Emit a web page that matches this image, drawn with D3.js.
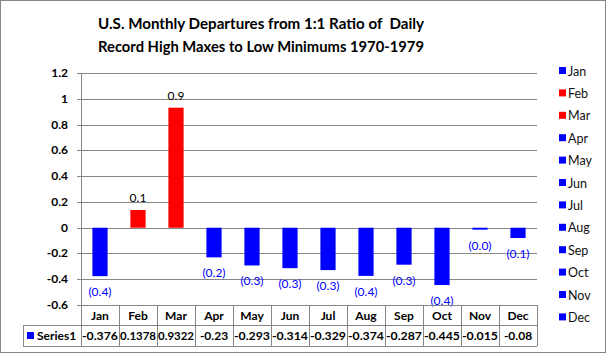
<!DOCTYPE html>
<meta charset="utf-8">
<style>body { margin: 0; }</style>
<svg width="607" height="354"></svg>

<script src="https://d3js.org/d3.v7.min.js"></script>
<script>
	// Monthly departures from a 1:1 ratio of record highs to record lows, 1970-1979
	const months = ["Jan", "Feb", "Mar", "Apr", "May", "Jun", "Jul", "Aug", "Sep", "Oct", "Nov", "Dec"]
	const values = [-0.376, 0.1378, 0.9322, -0.23, -0.293, -0.314, -0.329, -0.374, -0.287, -0.445, -0.015, -0.08]
	const tableText = ["-0.376", "0.1378", "0.9322", "-0.23", "-0.293", "-0.314", "-0.329", "-0.374", "-0.287", "-0.445", "-0.015", "-0.08"]
	const yTicks = [-0.6, -0.4, -0.2, 0, 0.2, 0.4, 0.6, 0.8, 1, 1.2]
	const seriesName = "Series1"
	const titleLines = ["U.S. Monthly Departures from 1:1 Ratio of  Daily", "Record High Maxes to Low Minimums 1970-1979"]

	const font = "Lato, 'Open Sans', sans-serif"
	const blue = "#0000ff", red = "#ff0000", grid = "#868686"
	const colorOf = v => v >= 0 ? red : blue

	const svg = d3.select("svg")
		.attr("font-family", font)
		.style("display", "block")

	// outer border
	svg.append("rect")
		.attr("x", 0.5).attr("y", 0.5)
		.attr("width", 605).attr("height", 352)
		.attr("fill", "#fff").attr("stroke", grid)

	// title
	svg.append("text")
		.attr("text-anchor", "middle")
		.attr("font-weight", "bold").attr("font-size", 15.5)
		.selectAll("tspan")
		.data(titleLines)
		.join("tspan")
			.attr("x", 261)
			.attr("y", (d, i) => 29 + i * 23)
			.style("white-space", "pre")
			.attr("textLength", 326)
			.attr("lengthAdjust", "spacingAndGlyphs")
			.text(d => d)

	const plotLeft = 81, plotRight = 537, plotTop = 73.2, plotBottom = 305

	const x = d3.scaleBand()
		.domain(months)
		.range([plotLeft, plotRight])
		.paddingInner(0.6)
		.paddingOuter(0.3)

	const y = d3.scaleLinear()
		.domain([-0.6, 1.2])
		.range([plotBottom, plotTop])

	// gridlines
	svg.append("g")
		.selectAll("line")
		.data(yTicks)
		.join("line")
			.attr("x1", plotLeft - 4).attr("x2", plotRight)
			.attr("y1", d => Math.round(y(d)) + 0.5)
			.attr("y2", d => Math.round(y(d)) + 0.5)
			.attr("stroke", grid)

	// y axis line
	svg.append("line")
		.attr("x1", plotLeft + 0.5).attr("x2", plotLeft + 0.5)
		.attr("y1", plotTop).attr("y2", 346)
		.attr("stroke", grid)

	// y tick labels
	svg.append("g")
		.attr("font-weight", "bold").attr("font-size", 12)
		.attr("text-anchor", "end")
		.selectAll("text")
		.data(yTicks)
		.join("text")
			.attr("x", 68)
			.attr("y", d => y(d) + 4)
			.text(d => String(d))

	// bars
	svg.append("g")
		.selectAll("rect")
		.data(values)
		.join("rect")
			.attr("x", (d, i) => x(months[i]))
			.attr("width", x.bandwidth())
			.attr("y", d => y(Math.max(0, d)))
			.attr("height", d => Math.abs(y(d) - y(0)))
			.attr("fill", colorOf)

	// data labels
	svg.append("g")
		.attr("font-size", 12)
		.attr("text-anchor", "middle")
		.selectAll("text")
		.data(values)
		.join("text")
			.attr("x", (d, i) => x(months[i]) + x.bandwidth() / 2)
			.attr("y", d => d >= 0 ? y(d) - 8 : y(d) + 20)
			.attr("fill", d => d >= 0 ? "#000" : blue)
			.text(d => d >= 0 ? Math.abs(d).toFixed(1) : `(${Math.abs(d).toFixed(1)})`)

	// data table
	const rowTop = 305, rowMid = 325, rowEnd = 346, tableLeft = 23
	const colX = i => Math.round(plotLeft + i * (plotRight - plotLeft) / 12) + 0.5
	const cx = i => plotLeft + (i + 0.5) * (plotRight - plotLeft) / 12
	const table = svg.append("g").attr("stroke", grid)
	table.append("line").attr("x1", plotLeft).attr("x2", plotRight).attr("y1", rowTop + 0.5).attr("y2", rowTop + 0.5)
	table.append("line").attr("x1", tableLeft).attr("x2", plotRight).attr("y1", rowMid + 0.5).attr("y2", rowMid + 0.5)
	table.append("line").attr("x1", tableLeft).attr("x2", plotRight).attr("y1", rowEnd + 0.5).attr("y2", rowEnd + 0.5)
	table.append("line").attr("x1", tableLeft + 0.5).attr("x2", tableLeft + 0.5).attr("y1", rowMid).attr("y2", rowEnd)
	table.selectAll(".col")
		.data(months)
		.join("line")
			.attr("x1", (d, i) => colX(i + 1))
			.attr("x2", (d, i) => colX(i + 1))
			.attr("y1", rowTop).attr("y2", rowEnd)

	svg.append("g")
		.attr("font-weight", "bold").attr("font-size", 12)
		.attr("text-anchor", "middle")
		.selectAll("text")
		.data(months)
		.join("text")
			.attr("x", (d, i) => cx(i))
			.attr("y", 320)
			.text(d => d)

	svg.append("g")
		.attr("font-weight", "bold").attr("font-size", 12)
		.attr("text-anchor", "middle")
		.selectAll("text")
		.data(tableText)
		.join("text")
			.attr("x", (d, i) => cx(i))
			.attr("y", 340)
			.attr("textLength", d => d.length > 5 ? 36 : null)
			.attr("lengthAdjust", "spacingAndGlyphs")
			.text(d => d)

	svg.append("rect")
		.attr("x", 27).attr("y", 332).attr("width", 7).attr("height", 7)
		.attr("fill", blue)
	svg.append("text")
		.attr("x", 37).attr("y", 340)
		.attr("font-weight", "bold").attr("font-size", 12)
		.text(seriesName)

	// legend
	const legend = svg.append("g")
		.selectAll("g")
		.data(months)
		.join("g")
			.attr("transform", (d, i) => `translate(559,${71 + i * 22.4})`)
	legend.append("rect")
		.attr("x", 0).attr("y", -4).attr("width", 7).attr("height", 7)
		.attr("fill", (d, i) => colorOf(values[i]))
	legend.append("text")
		.attr("x", 9).attr("y", 4.5)
		.attr("font-size", 12.5).attr("fill", "#111")
		.text(d => d)
</script>
